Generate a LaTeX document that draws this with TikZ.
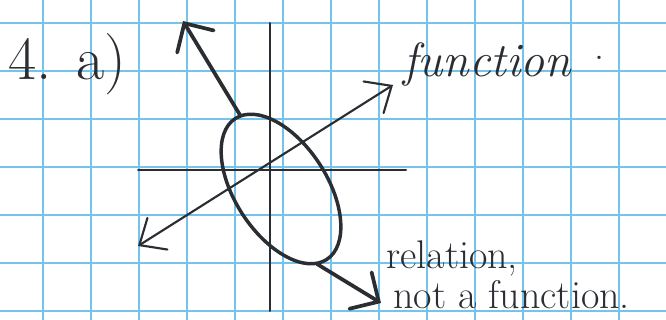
\documentclass[tikz,border=0pt]{standalone}
\usepackage{tikz}
\usetikzlibrary{arrows.meta}
\definecolor{GridBlue}{RGB}{115,195,234}
\definecolor{PencilInk}{RGB}{42,46,50}
\tikzset{
  gridline/.style={draw=GridBlue,line width=1.3pt},
  axisline/.style={draw=PencilInk,line width=1.5pt,line cap=round},
  ovalline/.style={draw=PencilInk,line width=2.6pt},
  rayline/.style={-{Straight Barb[length=16pt,width=32pt,line cap=round]},draw=PencilInk,line width=2.8pt,line cap=round},
  fnline/.style={{Straight Barb[length=16pt,width=28pt,line cap=round]}-{Straight Barb[length=16pt,width=28pt,line cap=round]},draw=PencilInk,line width=1.6pt},
  handtext/.style={text=PencilInk,inner sep=0pt,anchor=base west}
}
\begin{document}
\begin{tikzpicture}[x=0.75pt,y=-0.75pt]
\useasboundingbox (0,0) rectangle (666,320);
% squared paper
\foreach \gx in {43,91,...,619} \draw[gridline] (\gx,0) -- (\gx,320);
\foreach \gy in {23,71,...,311} \draw[gridline] (0,\gy) -- (666,\gy);
% axes
\coordinate (ytop) at (270,23);
\coordinate (ybot) at (270,311);
\coordinate (xleft) at (138,170);
\coordinate (xright) at (406,170);
\draw[axisline] (ytop) -- (ybot);
\draw[axisline] (xleft) -- (xright);
% the line y = mx + b
\coordinate (fnlo) at (138,246);
\coordinate (fnhi) at (393,85);
\draw[fnline] (fnlo) -- (fnhi);
% the oval with its two rays
\coordinate (ovc) at (281,189);
\coordinate (ovtop) at (240,115);
\coordinate (ovbot) at (317,264);
\coordinate (nwtip) at (183,21);
\coordinate (setip) at (381,303);
\draw[ovalline,rotate around={-57:(ovc)}] (ovc) ellipse [x radius=84, y radius=46];
\draw[rayline] (ovtop) -- (nwtip);
\draw[rayline] (ovbot) -- (setip);
% labels
\node[handtext,font=\fontsize{46}{50}\selectfont] (qlabel) at (8,80) {4. a)};
\node[handtext,font=\fontsize{36}{40}\selectfont\itshape] (fnlabel) at (403,77) {function};
\node[handtext,font=\fontsize{30}{34}\selectfont] (fndot) at (594,60) {.};
\node[handtext,font=\fontsize{30}{34}\selectfont] (rellabel) at (386,268) {relation,};
\node[handtext,font=\fontsize{30}{34}\selectfont] (notlabel) at (393,308) {not a function.};
\end{tikzpicture}
\end{document}
